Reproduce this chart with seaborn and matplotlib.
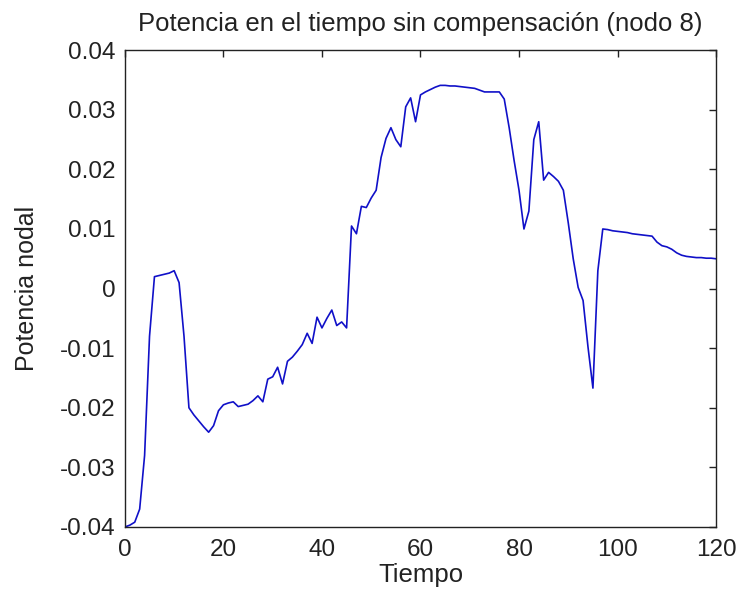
import numpy as np
import pandas as pd
import matplotlib
matplotlib.use("Agg")
import matplotlib.pyplot as plt
import seaborn as sns

# potencia nodal del nodo 8, sin compensación
tiempo = list(range(0, 121))
potencia = [
    -0.0400, -0.0397, -0.0392, -0.0370, -0.0280, -0.0080, 0.0020, 0.0022, 0.0024, 0.0026,
    0.0030, 0.0010, -0.0080, -0.0200, -0.0212, -0.0222, -0.0232, -0.0241, -0.0230, -0.0205,
    -0.0195, -0.0192, -0.0190, -0.0198, -0.0196, -0.0194, -0.0188, -0.0180, -0.0190, -0.0152,
    -0.0148, -0.0132, -0.0160, -0.0122, -0.0115, -0.0105, -0.0094, -0.0075, -0.0092, -0.0048,
    -0.0066, -0.0050, -0.0036, -0.0062, -0.0056, -0.0066, 0.0105, 0.0092, 0.0138, 0.0136,
    0.0152, 0.0165, 0.0220, 0.0252, 0.0270, 0.0250, 0.0238, 0.0305, 0.0320, 0.0280,
    0.0325, 0.0330, 0.0334, 0.0338, 0.0341, 0.0341, 0.0340, 0.0340, 0.0339, 0.0338,
    0.0337, 0.0336, 0.0333, 0.0330, 0.0330, 0.0330, 0.0330, 0.0318, 0.0270, 0.0215,
    0.0165, 0.0100, 0.0130, 0.0250, 0.0280, 0.0182, 0.0195, 0.0188, 0.0180, 0.0165,
    0.0110, 0.0050, 0.0002, -0.0020, -0.0098, -0.0167, 0.0030, 0.0100, 0.0099, 0.0097,
    0.0096, 0.0095, 0.0094, 0.0092, 0.0091, 0.0090, 0.0089, 0.0088, 0.0078, 0.0072,
    0.0070, 0.0066, 0.0060, 0.0056, 0.0054, 0.0053, 0.0052, 0.0052, 0.0051, 0.0051,
    0.0050,
]
xticks = [0, 20, 40, 60, 80, 100, 120]
yticks = [-0.04, -0.03, -0.02, -0.01, 0, 0.01, 0.02, 0.03, 0.04]
ylabels = ["-0.04", "-0.03", "-0.02", "-0.01", "0", "0.01", "0.02", "0.03", "0.04"]

df = pd.DataFrame({"Tiempo": tiempo, "Potencia nodal": potencia})

sns.set_style("white")
plt.rcParams["font.family"] = ["Liberation Sans", "DejaVu Sans"]
plt.rcParams["axes.unicode_minus"] = False

fig = plt.figure(figsize=(7.39, 6.05), dpi=100)
ax = fig.add_axes([0.169, 0.129, 0.80, 0.788])
sns.lineplot(data=df, x="Tiempo", y="Potencia nodal", color="#1010c8", linewidth=1.2, ax=ax)

ax.set_xlim(0, 120)
ax.set_ylim(-0.04, 0.04)
ax.set_xticks(xticks)
ax.set_xticklabels([str(v) for v in xticks])
ax.set_yticks(yticks)
ax.set_yticklabels(ylabels)
ax.tick_params(direction="in", top=True, right=True, length=5, width=1,
               labelsize=17.5, colors="#222222", pad=7)
ax.tick_params(axis="x", pad=9)
for s in ax.spines.values():
    s.set_color("#222222")
    s.set_linewidth(1)

ax.set_xlabel("Tiempo", fontsize=18.5, labelpad=1, color="#222222")
ax.set_ylabel("Potencia nodal", fontsize=18, labelpad=15, color="#222222")
ax.set_title("Potencia en el tiempo sin compensación (nodo 8)", fontsize=18.5, pad=14,
             color="#222222")

fig.savefig("out.png", dpi=100)
